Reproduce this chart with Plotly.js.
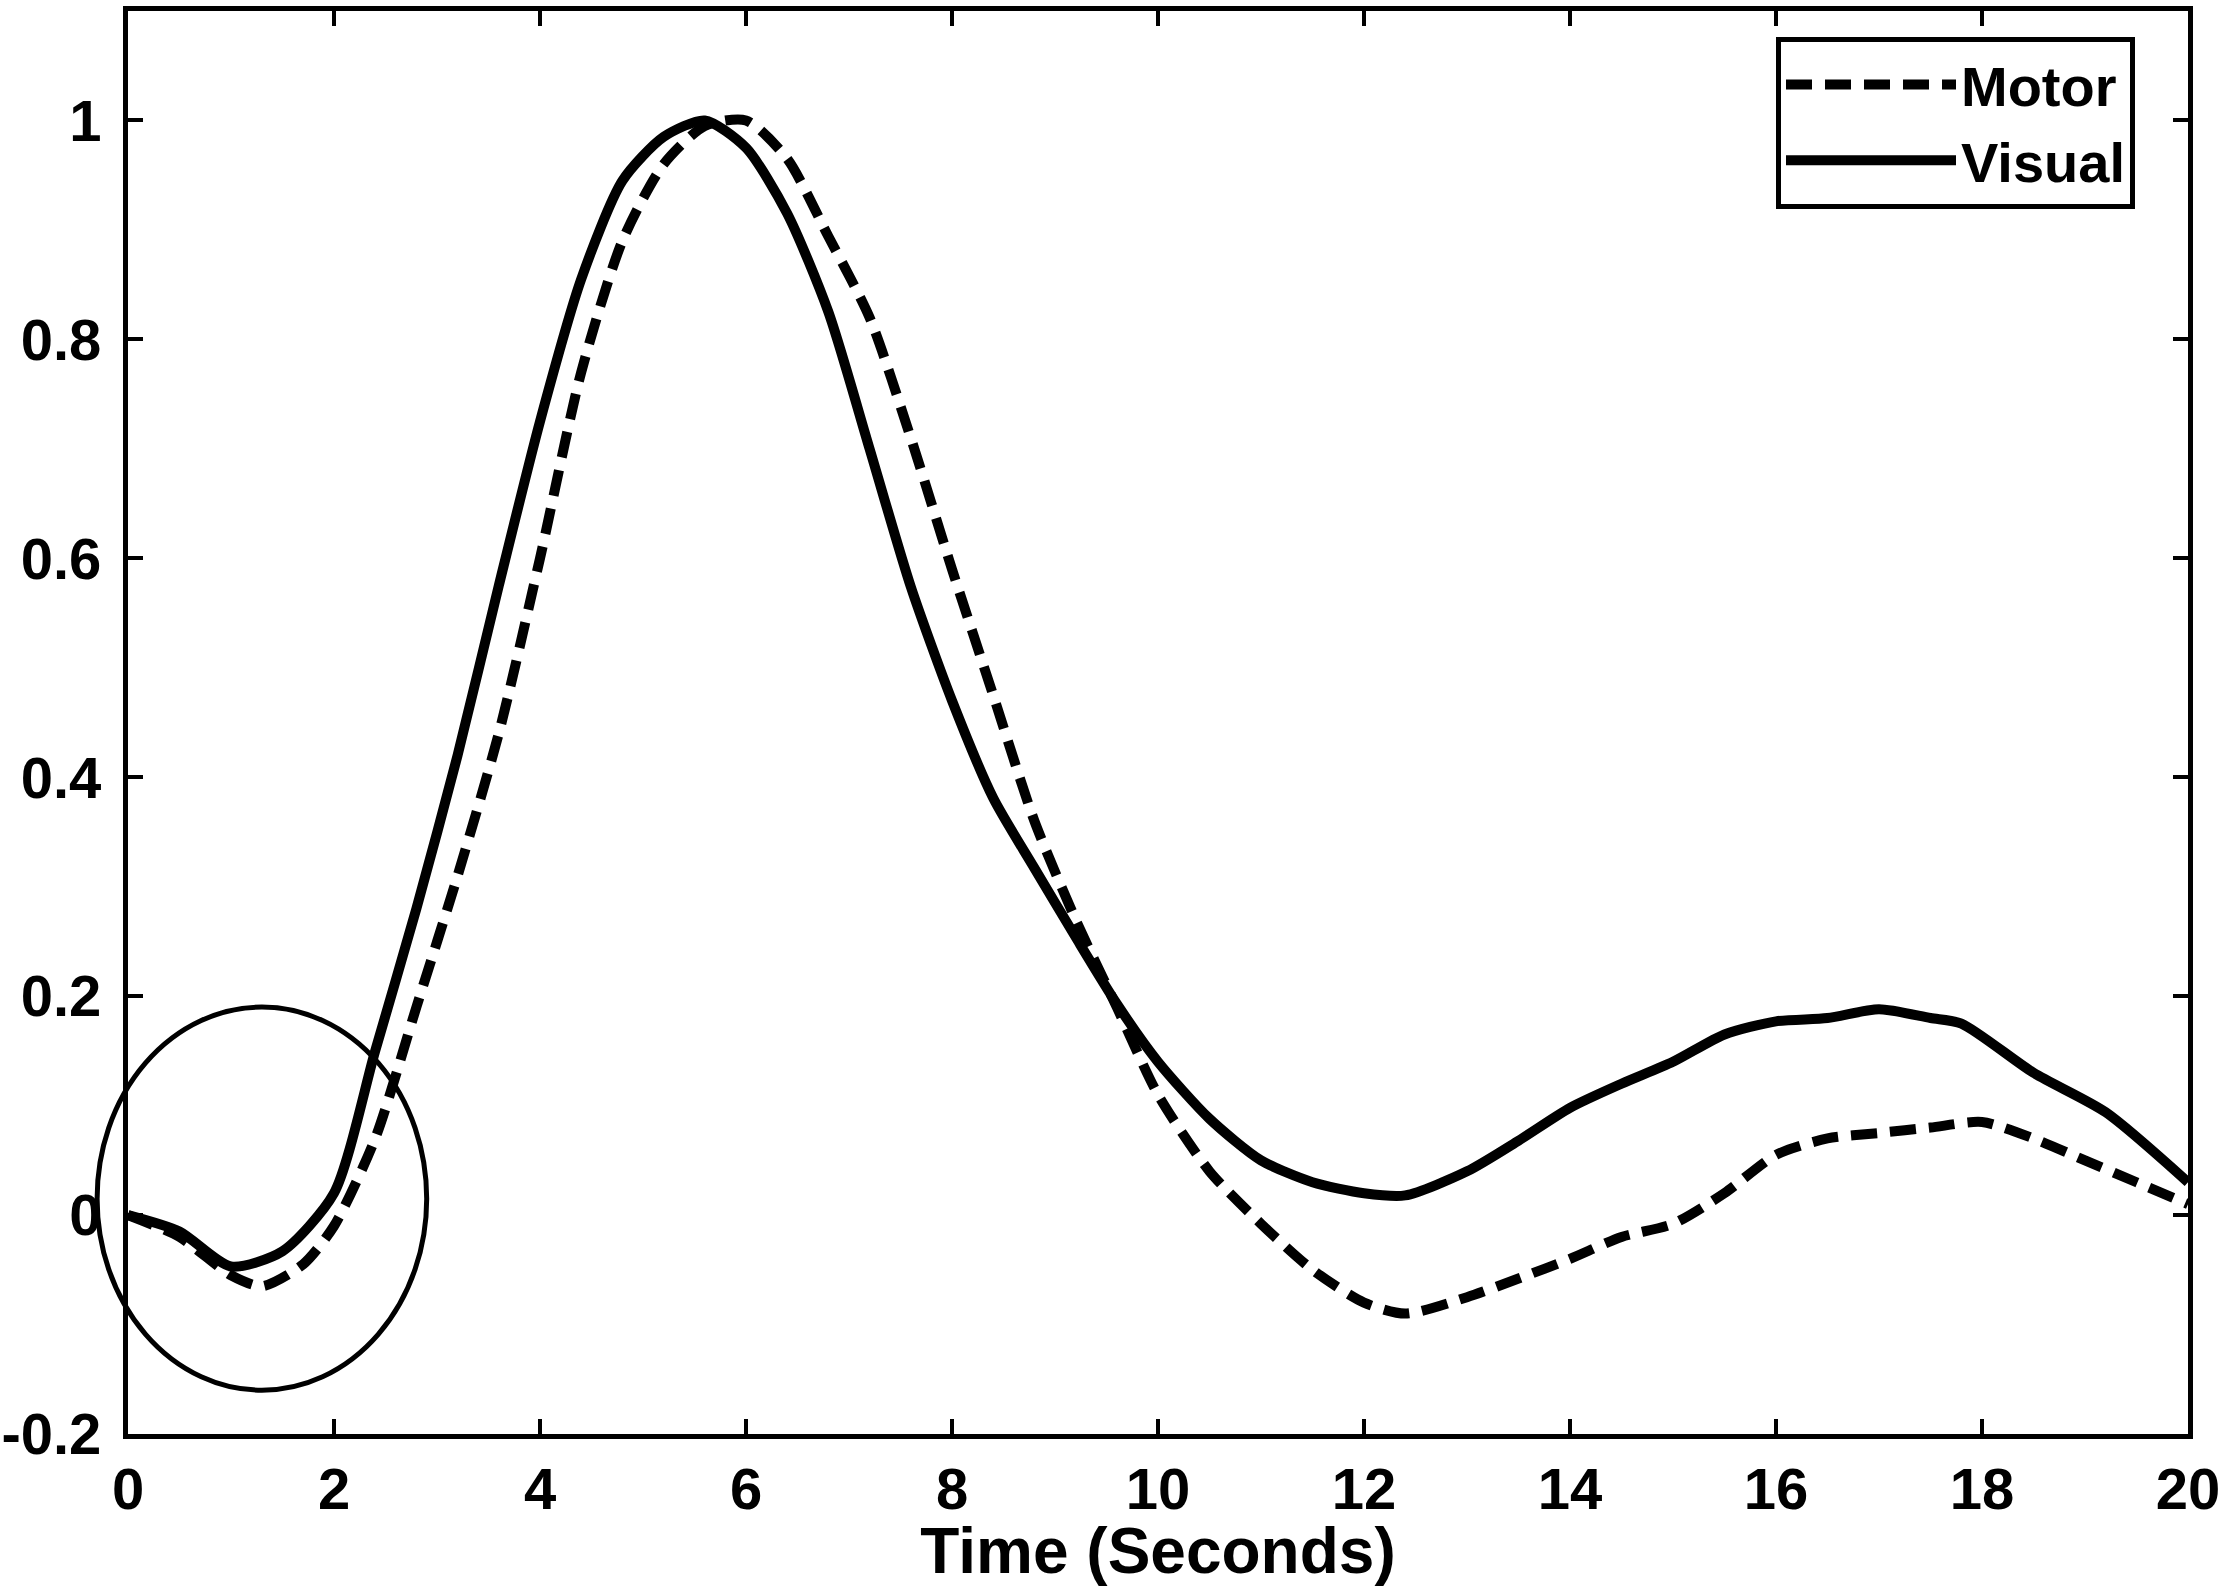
<!DOCTYPE html>
<html>
<head>
<meta charset="utf-8">
<script src="https://cdn.plot.ly/plotly-3.0.1.min.js"></script>
<style>
	html, body { margin: 0; padding: 0; background: #fff; }
	#chart { width: 2228px; height: 1587px; }
</style>
</head>
<body>
<div id="chart"></div>
<script>
// values
var visualTime = [0, 0.5, 1.0, 1.5, 2.0, 2.4, 2.8, 3.2, 3.6, 4.0, 4.4, 4.8, 5.2, 5.6, 6.0, 6.4, 6.8, 7.2, 7.6, 8.0, 8.4, 8.8, 9.2, 9.6, 10.0, 10.5, 11.0, 11.5, 12.0, 12.4, 13.0, 13.5, 14.0, 14.5, 15.0, 15.5, 16.0, 16.5, 17.0, 17.5, 17.8, 18.5, 19.2, 20.0];
var visualValues = [0, -0.015, -0.047, -0.033, 0.02, 0.15, 0.28, 0.42, 0.575, 0.725, 0.855, 0.945, 0.985, 1.0, 0.975, 0.915, 0.825, 0.70, 0.574, 0.47, 0.381, 0.317, 0.254, 0.193, 0.14, 0.088, 0.05, 0.03, 0.02, 0.018, 0.04, 0.068, 0.098, 0.12, 0.14, 0.165, 0.177, 0.18, 0.188, 0.18, 0.175, 0.13, 0.094, 0.03];

var motorTime = [0, 0.5, 1.0, 1.3, 1.7, 2.0, 2.4, 2.8, 3.2, 3.6, 4.0, 4.4, 4.8, 5.2, 5.6, 6.0, 6.4, 6.8, 7.2, 7.6, 8.0, 8.4, 8.8, 9.2, 9.6, 10.0, 10.5, 11.0, 11.5, 12.0, 12.4, 13.0, 13.5, 14.0, 14.5, 15.0, 15.5, 16.0, 16.5, 17.0, 17.5, 18.0, 18.5, 19.0, 19.5, 20.0];
var motorValues = [0, -0.02, -0.055, -0.065, -0.045, -0.01, 0.07, 0.19, 0.31, 0.44, 0.6, 0.77, 0.89, 0.96, 0.995, 1.0, 0.965, 0.894, 0.82, 0.71, 0.59, 0.475, 0.36, 0.27, 0.19, 0.11, 0.04, -0.008, -0.05, -0.08, -0.09, -0.075, -0.058, -0.04, -0.02, -0.008, 0.02, 0.055, 0.07, 0.075, 0.08, 0.085, 0.07, 0.05, 0.03, 0.01];

var xTicks = [0, 2, 4, 6, 8, 10, 12, 14, 16, 18, 20];
var yTicks = [-0.2, 0, 0.2, 0.4, 0.6, 0.8, 1];
var yTickText = ['-0.2', '0', '0.2', '0.4', '0.6', '0.8', '1'];

// highlighted region (data units): x from, x to, y from, y to
var ringX = [-0.3, 2.9];
var ringY = [-0.16, 0.19];

var xRange = [0, 20];
var yRange = [-0.2, 1.1];

function toPaper(v, range) {
	return (v - range[0]) / (range[1] - range[0]);
}

var fontFamily = '"Liberation Sans", Arial, sans-serif';

var data = [ {
	x : motorTime,
	y : motorValues,
	type : 'scatter',
	mode : 'lines',
	name : 'Motor',
	line : { color : '#000', width : 10, dash : '26px,13px', shape : 'spline', smoothing : 0.7 }
}, {
	x : visualTime,
	y : visualValues,
	type : 'scatter',
	mode : 'lines',
	name : 'Visual',
	line : { color : '#000', width : 10, shape : 'spline', smoothing : 0.7 }
} ];

var axisCommon = {
	showgrid : false,
	zeroline : false,
	showline : true,
	linecolor : '#000',
	linewidth : 5,
	mirror : 'allticks',
	ticks : 'inside',
	ticklen : 15,
	tickwidth : 4,
	tickcolor : '#000',
	tickfont : { family : fontFamily, size : 58, color : '#000', weight : 'bold' }
};

var layout = {
	width : 2228,
	height : 1587,
	margin : { l : 128, r : 40, t : 11, b : 153 },
	paper_bgcolor : '#fff',
	plot_bgcolor : '#fff',
	showlegend : true,
	legend : {
		x : 0.80, y : 0.982,
		xanchor : 'left', yanchor : 'top',
		bgcolor : '#fff',
		bordercolor : '#000',
		borderwidth : 5,
		itemwidth : 170,
		font : { family : fontFamily, size : 56, color : '#000', weight : 'bold' }
	},
	xaxis : Object.assign({}, axisCommon, {
		range : xRange,
		tickvals : xTicks,
		title : { text : 'Time (Seconds)', standoff : 6,
			font : { family : fontFamily, size : 64, color : '#000', weight : 'bold' } }
	}),
	yaxis : Object.assign({}, axisCommon, {
		range : yRange,
		tickvals : yTicks,
		ticktext : yTickText,
		ticklabelstandoff : 10
	}),
	shapes : [ {
		type : 'circle',
		xref : 'paper', yref : 'paper',
		x0 : toPaper(ringX[0], xRange), x1 : toPaper(ringX[1], xRange),
		y0 : toPaper(ringY[0], yRange), y1 : toPaper(ringY[1], yRange),
		line : { color : '#000', width : 5 }
	} ]
};

Plotly.newPlot('chart', data, layout, { displayModeBar : false, staticPlot : true });
</script>
</body>
</html>
